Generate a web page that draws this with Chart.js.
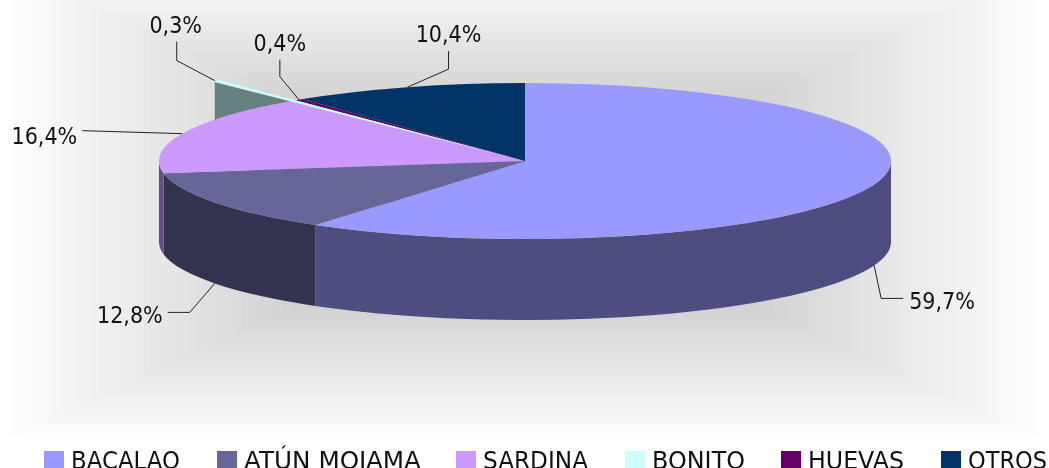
<!DOCTYPE html>
<html>
<head>
<meta charset="utf-8">
<style>html,body{margin:0;padding:0;background:#fff;overflow:hidden}canvas{display:block}</style>
<script src="https://cdn.jsdelivr.net/npm/chart.js@4/dist/chart.umd.min.js"></script>
</head>
<body>
<canvas id="c" width="1049" height="468"></canvas>
<script>
const categories = ['BACALAO','ATÚN MOJAMA','SARDINA','BONITO','HUEVAS','OTROS'];
const shares = [59.7,12.8,16.4,0.3,0.4,10.4];
const topColors = ['#9999FF','#666699','#CC99FF','#CCFFFF','#660066','#003366'];
const sideColors = ['#4D4D80','#333350','#664D80','#668080','#330033','#001A33'];

// presentation only
const RX = 366, RY = 78, DEPTH = 81;
const STRAY_INDEX = 3, STRAY_RADIUS = 1.335;
const legendBoxX = [44,217,456,625,781,941];
const legendTextW = [109,177,105,93,96,79];
// leader elbows relative to the anchor, text position relative to the last elbow
const leaderPaths = [
  {base:'wall', pts:[[7,33],[29,33]], text:[6,5,'left']},
  {base:'wall', pts:[[-25,29],[-47,29]], text:[-5,5,'right']},
  {base:'top',  pts:[[-100,-3]], text:[-5,7,'right']},
  {base:'stray',pts:[[-38,-20],[-38,-39]], text:[-1,-15,'center']},
  {base:'top',  pts:[[-19,-23],[-19,-40]], text:[0,-15,'center']},
  {base:'top',  pts:[[41,-18],[41,-36]], text:[0,-15,'center']}
];

const fmt = v => v.toFixed(1).replace('.',',') + '%';

const scene = {
  id:'scene',
  beforeDraw(chart){
    const {ctx,width} = chart;
    const top=-35, bottom=442, levels=80;
    ctx.save();
    ctx.fillStyle='#fff';ctx.fillRect(0,0,width,chart.height);
    for(let i=0;i<=levels;i++){
      const t=i/levels, g=Math.round(255-levels*t);
      const ix=t*width/2, iy=t*(bottom-top)/2;
      ctx.fillStyle=`rgb(${g},${g},${g})`;
      ctx.fillRect(ix,top+iy,width-2*ix,bottom-top-2*iy);
    }
    ctx.restore();
  },
  beforeDatasetsDraw(chart){
    const {ctx}=chart, arcs=chart.getDatasetMeta(0).data;
    const cx=arcs[0].x, cy=arcs[0].y, R=arcs[0].outerRadius;
    ctx.save();
    // back wall of the stray slice
    const sa=arcs[STRAY_INDEX], mid=(sa.startAngle+sa.endAngle)/2;
    const tx=cx+RX*STRAY_RADIUS*Math.cos(mid), ty=cy+RY*STRAY_RADIUS*Math.sin(mid);
    ctx.fillStyle=sideColors[STRAY_INDEX];
    ctx.beginPath();ctx.moveTo(cx,cy);ctx.lineTo(tx,ty);ctx.lineTo(tx,ty+DEPTH);ctx.lineTo(cx,cy+DEPTH);ctx.closePath();ctx.fill();
    // front walls
    arcs.forEach((a,i)=>{
      const a0=Math.max(a.startAngle,0), a1=Math.min(a.endAngle,Math.PI);
      if(a1<=a0) return;
      ctx.fillStyle=sideColors[i];
      ctx.beginPath();
      ctx.ellipse(cx,cy,RX,RY,0,a0,a1);
      ctx.ellipse(cx,cy+DEPTH,RX,RY,0,a1,a0,true);
      ctx.closePath();ctx.fill();
    });
    ctx.restore();
    ctx.save();
    ctx.translate(cx,cy);ctx.scale(RX/R,RY/R);ctx.translate(-cx,-cy);
  },
  afterDatasetsDraw(chart){
    const {ctx}=chart, arcs=chart.getDatasetMeta(0).data;
    ctx.restore();
    const cx=arcs[0].x, cy=arcs[0].y;
    ctx.save();
    // stray sliver running past the rim
    const sa=arcs[STRAY_INDEX];
    ctx.fillStyle=topColors[STRAY_INDEX];
    ctx.beginPath();ctx.moveTo(cx,cy);
    ctx.lineTo(cx+RX*STRAY_RADIUS*Math.cos(sa.startAngle),cy+RY*STRAY_RADIUS*Math.sin(sa.startAngle));
    ctx.lineTo(cx+RX*STRAY_RADIUS*Math.cos(sa.endAngle),cy+RY*STRAY_RADIUS*Math.sin(sa.endAngle));
    ctx.closePath();ctx.fill();
    // leaders and labels
    arcs.forEach((a,i)=>{
      const mid=(a.startAngle+a.endAngle)/2, L=leaderPaths[i];
      const k=L.base==='stray'?STRAY_RADIUS:1;
      const ax=cx+RX*k*Math.cos(mid), ay=cy+RY*k*Math.sin(mid)+(L.base==='wall'?DEPTH:0);
      ctx.strokeStyle='#222';ctx.lineWidth=1;
      ctx.beginPath();ctx.moveTo(ax,ay);
      let px=ax,py=ay;
      L.pts.forEach(p=>{px=ax+p[0];py=ay+p[1];ctx.lineTo(px,py);});
      ctx.stroke();
      ctx.save();
      ctx.translate(px+L.text[0],py+L.text[1]);
      ctx.scale(.9,1);
      ctx.font='23px "DejaVu Sans"';ctx.fillStyle='#111';
      ctx.textAlign=L.text[2];ctx.textBaseline='middle';
      ctx.fillText(fmt(shares[i]),0,0);
      ctx.restore();
    });
    // legend
    categories.forEach((name,i)=>{
      const x=legendBoxX[i];
      ctx.fillStyle=topColors[i];
      ctx.fillRect(x,451,20,20);
      ctx.save();
      ctx.font='25px "DejaVu Sans"';ctx.fillStyle='#111';
      ctx.textAlign='left';ctx.textBaseline='alphabetic';
      const s=legendTextW[i]/ctx.measureText(name).width;
      ctx.translate(x+27,469);ctx.scale(s,1);
      ctx.fillText(name,0,0);
      ctx.restore();
    });
    ctx.restore();
  }
};

new Chart(document.getElementById('c').getContext('2d'),{
  type:'pie',
  data:{labels:categories,datasets:[{data:shares,backgroundColor:topColors,borderWidth:0,clip:false,hoverOffset:0}]},
  options:{
    responsive:false,animation:false,
    events:[],
    layout:{padding:{left:1,right:0,top:0,bottom:146}},
    plugins:{legend:{display:false},tooltip:{enabled:false},title:{display:false}}
  },
  plugins:[scene]
});
</script>
</body>
</html>
